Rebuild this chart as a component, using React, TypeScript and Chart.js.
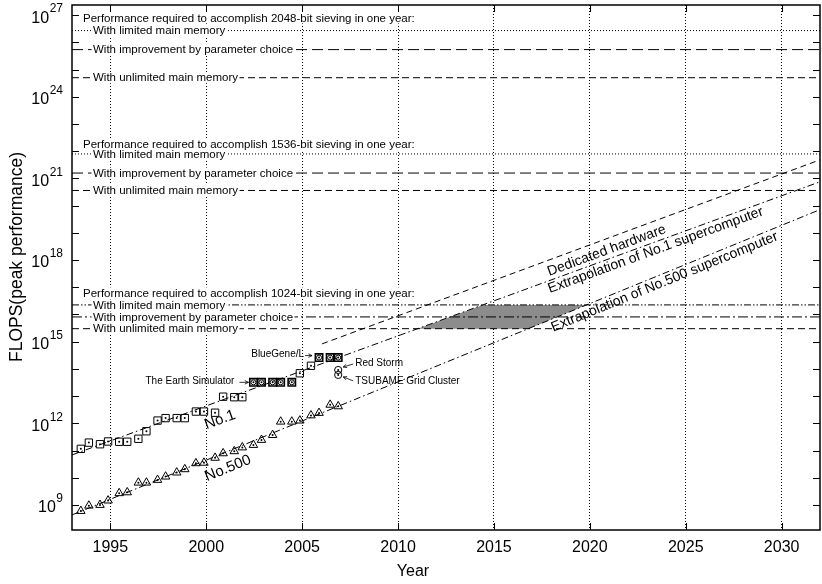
import React, { useEffect, useRef } from 'react';
import { Chart, registerables } from 'chart.js';

Chart.register(...registerables);

const FONT = '"Liberation Sans", Arial, Helvetica, sans-serif';

// ---- axes ----
const X_MIN = 1993;
const X_MAX = 2032;
const X_TICKS = [1995, 2000, 2005, 2010, 2015, 2020, 2025, 2030];
const Y_MIN = 1.2e8;
const Y_MAX = 2.35e27;
const Y_LABEL_EXPONENTS = [9, 12, 15, 18, 21, 24, 27];
const X_TITLE = 'Year';
const Y_TITLE = 'FLOPS(peak performance)';

// ---- TOP500 lists (June / November) ----
const LIST_YEARS = [
  1993.46, 1993.88, 1994.46, 1994.88, 1995.46, 1995.88, 1996.46, 1996.88,
  1997.46, 1997.88, 1998.46, 1998.88, 1999.46, 1999.88, 2000.46, 2000.88,
  2001.46, 2001.88, 2002.46, 2002.88, 2003.46, 2003.88, 2004.46, 2004.88,
  2005.46, 2005.88, 2006.46, 2006.88,
];
const NO1_FLOPS = [
  1.15e11, 1.95e11, 1.7e11, 2.15e11, 2.1e11, 2.1e11, 2.7e11, 5.1e11,
  1.26e12, 1.55e12, 1.55e12, 1.55e12, 2.7e12, 2.7e12, 2.45e12, 9.5e12,
  9.1e12, 9.1e12, 3.2e13, 3.2e13, 3.2e13, 3.2e13, 3.2e13, 6.9e13,
  1.3e14, 2.6e14, 2.6e14, 2.6e14,
];
const NO500_FLOPS = [
  6.0e8, 9.4e8, 1.0e9, 1.45e9, 2.7e9, 2.9e9, 6.6e9, 6.6e9,
  8.3e9, 1.1e10, 1.55e10, 2.05e10, 3.4e10, 3.55e10, 5.4e10, 7.9e10,
  9.4e10, 1.3e11, 1.6e11, 2.45e11, 3.7e11, 1.15e12, 1.15e12, 1.26e12,
  1.95e12, 2.4e12, 4.8e12, 4.2e12,
];
// Earth Simulator and BlueGene/L entries of the No.1 series (drawn circled)
const EARTH_SIMULATOR_YEARS = [2002.46, 2002.88, 2003.46, 2003.88, 2004.46];
const BLUEGENE_YEARS = [2005.88, 2006.46, 2006.88];
// other systems
const OTHER_NAMES = ['Red Storm', 'TSUBAME Grid Cluster'];
const OTHER_YEARS = [2006.88, 2006.88];
const OTHER_FLOPS = [9.1e13, 6.0e13];

// ---- trend lines ----
const NO1_TREND_YEARS = [1993, 2032];
const NO1_TREND_FLOPS = [6.9e10, 7.5e20];
const NO500_TREND_YEARS = [1993, 2032];
const NO500_TREND_FLOPS = [4.3e8, 7.1e19];
const DEDICATED_YEARS = [2006.04, 2032];
const DEDICATED_FLOPS = [8.3e14, 4.8e21];

// ---- required performance (one year of sieving) ----
const KEY_BITS = ['2048', '1536', '1024'];
const LIMITED_FLOPS = [2.7e26, 7.9e21, 2.24e16];
const IMPROVED_FLOPS = [5.4e25, 1.57e21, 8.1e15];
const UNLIMITED_FLOPS = [5.0e24, 3.6e20, 3.0e15];
const HEADER_FLOPS = [7.9e26, 1.74e22, 6.2e16];
const KEY_LABELS = [
  'With limited main memory',
  'With improvement by parameter choice',
  'With unlimited main memory',
];

const pts = (xs: number[], ys: number[]) => xs.map((x, i) => ({ x, y: ys[i] }));
const flat = (v: number) => [{ x: X_MIN, y: v }, { x: X_MAX, y: v }];
const yearAtLevel = (years: number[], flops: number[]) => {
  const l0 = Math.log10(flops[0]);
  const l1 = Math.log10(flops[1]);
  return (level: number) => years[0] + ((Math.log10(level) - l0) * (years[1] - years[0])) / (l1 - l0);
};

const no1At = yearAtLevel(NO1_TREND_YEARS, NO1_TREND_FLOPS);
const no500At = yearAtLevel(NO500_TREND_YEARS, NO500_TREND_FLOPS);
const lo1024 = UNLIMITED_FLOPS[2];
const hi1024 = LIMITED_FLOPS[2];
const REACH_1024 = [
  { x: no1At(lo1024), y: lo1024 },
  { x: no500At(lo1024), y: lo1024 },
  { x: no500At(hi1024), y: hi1024 },
  { x: no1At(hi1024), y: hi1024 },
  { x: no1At(lo1024), y: lo1024 },
];

const circledSet = new Set([...EARTH_SIMULATOR_YEARS, ...BLUEGENE_YEARS]);
const no1Points = pts(LIST_YEARS, NO1_FLOPS);
const circledPoints = no1Points.filter((p) => circledSet.has(p.x));

const DOTTED = [1, 2];
const LONG_DASH = [11, 5];
const DASH = [7, 4];
const DASH_DOT = [7, 3, 1.5, 3];
const DASH_DOT_DOT = [7, 2, 1.5, 2, 1.5, 2];
const LONG_DASH_DOT = [10, 3, 2, 3];

function lineDs(data: any[], dash: number[], order = 2) {
  return {
    data,
    borderColor: '#000',
    borderWidth: 1,
    borderDash: dash,
    pointRadius: 0,
    fill: false,
    showLine: true,
    order,
  };
}

function markerDs(data: any[], style: string, radius: number, width: any, order = 1) {
  return {
    data,
    showLine: false,
    pointStyle: style,
    pointRadius: radius,
    pointBorderColor: '#000',
    pointBackgroundColor: 'rgba(0,0,0,0)',
    pointBorderWidth: width,
    borderColor: '#000',
    order,
  };
}

function dotDs(data: any[]) {
  return {
    data,
    showLine: false,
    pointStyle: 'circle',
    pointRadius: 1,
    pointBorderWidth: 0,
    pointBackgroundColor: '#000',
    order: 0,
  };
}

const thresholdDatasets: any[] = [];
KEY_BITS.forEach((_, i) => {
  const last = i === 2;
  thresholdDatasets.push(lineDs(flat(LIMITED_FLOPS[i]), last ? DASH_DOT_DOT : DOTTED));
  thresholdDatasets.push(lineDs(flat(IMPROVED_FLOPS[i]), last ? LONG_DASH_DOT : LONG_DASH));
  thresholdDatasets.push(lineDs(flat(UNLIMITED_FLOPS[i]), DASH));
});

const overlayPlugin = {
  id: 'overlay',
  beforeDraw(chart: any) {
    const { ctx, width, height } = chart;
    ctx.save();
    ctx.fillStyle = '#fff';
    ctx.fillRect(0, 0, width, height);
    ctx.restore();
  },
  afterDatasetsDraw(chart: any) {
    const { ctx, chartArea: a } = chart;
    const xs = chart.scales.x;
    const ys = chart.scales.y;
    const px = (v: number) => xs.getPixelForValue(v);
    const py = (v: number) => ys.getPixelForValue(v);
    ctx.save();
    ctx.fillStyle = '#000';
    ctx.strokeStyle = '#000';

    // key labels with white boxes
    ctx.font = `11.5px ${FONT}`;
    ctx.textBaseline = 'middle';
    ctx.textAlign = 'left';
    const boxed = (t: string, x: number, y: number) => {
      const w = ctx.measureText(t).width;
      ctx.fillStyle = '#fff';
      ctx.fillRect(x - 1.5, y - 5.5, w + 3, 11);
      ctx.fillStyle = '#000';
      ctx.fillText(t, x, y + 0.5);
    };
    KEY_BITS.forEach((b, i) => {
      boxed(`Performance required to accomplish ${b}-bit sieving in one year:`, a.left + 11, py(HEADER_FLOPS[i]));
      boxed(KEY_LABELS[0], a.left + 21, py(LIMITED_FLOPS[i]));
      boxed(KEY_LABELS[1], a.left + 21, py(IMPROVED_FLOPS[i]));
      boxed(KEY_LABELS[2], a.left + 21, py(UNLIMITED_FLOPS[i]));
    });

    // rotated labels along trend lines
    const along = (text: string, years: number[], flops: number[], atYear: number, drop: number, size: number) => {
      const x0 = px(years[0]);
      const y0 = py(flops[0]);
      const x1 = px(years[1]);
      const y1 = py(flops[1]);
      const ang = Math.atan2(y1 - y0, x1 - x0);
      const cx = px(atYear);
      const cy = y0 + ((y1 - y0) * (cx - x0)) / (x1 - x0) + drop;
      ctx.save();
      ctx.translate(cx, cy);
      ctx.rotate(ang);
      ctx.font = `${size}px ${FONT}`;
      ctx.textAlign = 'center';
      ctx.textBaseline = 'middle';
      ctx.fillStyle = '#000';
      ctx.fillText(text, 0, 0);
      ctx.restore();
    };
    along('Dedicated hardware', DEDICATED_YEARS, DEDICATED_FLOPS, 2020.88, 12, 14);
    along('Extrapolation of No.1 supercomputer', NO1_TREND_YEARS, NO1_TREND_FLOPS, 2023.43, 8.5, 14);
    along('Extrapolation of No.500 supercomputer', NO500_TREND_YEARS, NO500_TREND_FLOPS, 2023.9, 9, 14);
    along('No.1', NO1_TREND_YEARS, NO1_TREND_FLOPS, 2000.72, 19, 15);
    along('No.500', NO500_TREND_YEARS, NO500_TREND_FLOPS, 2001.13, 17, 15);

    // annotated systems with arrows
    const arrow = (x0: number, y0: number, x1: number, y1: number) => {
      const ang = Math.atan2(y1 - y0, x1 - x0);
      ctx.lineWidth = 0.8;
      ctx.setLineDash([]);
      ctx.beginPath();
      ctx.moveTo(x0, y0);
      ctx.lineTo(x1, y1);
      ctx.moveTo(x1 - 4 * Math.cos(ang - 0.45), y1 - 4 * Math.sin(ang - 0.45));
      ctx.lineTo(x1, y1);
      ctx.lineTo(x1 - 4 * Math.cos(ang + 0.45), y1 - 4 * Math.sin(ang + 0.45));
      ctx.stroke();
    };
    ctx.font = `10px ${FONT}`;
    ctx.textBaseline = 'middle';
    const es = { x: px(EARTH_SIMULATOR_YEARS[0]), y: py(NO1_FLOPS[LIST_YEARS.indexOf(EARTH_SIMULATOR_YEARS[0])]) };
    ctx.textAlign = 'right';
    ctx.fillText('The Earth Simulator', es.x - 19, es.y - 1);
    arrow(es.x - 14, es.y, es.x - 5, es.y);
    const bg = { x: px(BLUEGENE_YEARS[0]), y: py(NO1_FLOPS[LIST_YEARS.indexOf(BLUEGENE_YEARS[0])]) };
    ctx.fillText('BlueGene/L', bg.x - 15, bg.y - 3);
    arrow(bg.x - 14, bg.y - 2, bg.x - 7, bg.y - 2);
    ctx.textAlign = 'left';
    const rs = { x: px(OTHER_YEARS[0]), y: py(OTHER_FLOPS[0]) };
    ctx.fillText(OTHER_NAMES[0], rs.x + 17, rs.y - 7);
    arrow(rs.x + 15, rs.y - 6, rs.x + 5, rs.y - 3);
    const ts = { x: px(OTHER_YEARS[1]), y: py(OTHER_FLOPS[1]) };
    ctx.fillText(OTHER_NAMES[1], ts.x + 17, ts.y + 6);
    arrow(ts.x + 15, ts.y + 6, ts.x + 5, ts.y + 2);
    ctx.restore();
  },
  afterDraw(chart: any) {
    const { ctx, chartArea: a } = chart;
    const xs = chart.scales.x;
    const ys = chart.scales.y;
    ctx.save();
    ctx.strokeStyle = '#000';
    ctx.fillStyle = '#000';
    ctx.setLineDash([]);
    ctx.lineWidth = 1;
    // inner tick marks
    ctx.beginPath();
    X_TICKS.forEach((v) => {
      const x = Math.round(xs.getPixelForValue(v)) + 0.5;
      ctx.moveTo(x, a.bottom);
      ctx.lineTo(x, a.bottom - 7);
      ctx.moveTo(x, a.top);
      ctx.lineTo(x, a.top + 7);
    });
    const eMin = Math.ceil(Math.log10(ys.min));
    const eMax = Math.floor(Math.log10(ys.max));
    for (let e = eMin; e <= eMax; e++) {
      const y = Math.round(ys.getPixelForValue(Math.pow(10, e))) + 0.5;
      ctx.moveTo(a.left, y);
      ctx.lineTo(a.left + 7, y);
      ctx.moveTo(a.right, y);
      ctx.lineTo(a.right - 7, y);
    }
    ctx.stroke();
    // frame
    ctx.lineWidth = 1.5;
    ctx.strokeRect(a.left, a.top, a.right - a.left, a.bottom - a.top);
    // y tick labels: 10^n
    Y_LABEL_EXPONENTS.forEach((e) => {
      const y = ys.getPixelForValue(Math.pow(10, e));
      ctx.textBaseline = 'middle';
      ctx.textAlign = 'right';
      ctx.font = `12px ${FONT}`;
      const exp = String(e);
      const ew = ctx.measureText(exp).width;
      const right = a.left - 9;
      ctx.fillText(exp, right, y - 6);
      ctx.font = `16px ${FONT}`;
      ctx.fillText('10', right - ew - 0.5, y + 3);
    });
    // axis titles
    ctx.font = `16px ${FONT}`;
    ctx.textAlign = 'center';
    ctx.textBaseline = 'middle';
    ctx.fillText(X_TITLE, 413, 572);
    ctx.save();
    ctx.translate(17, 257);
    ctx.rotate(-Math.PI / 2);
    ctx.font = `17.5px ${FONT}`;
    ctx.fillText(Y_TITLE, 0, 0);
    ctx.restore();
    ctx.restore();
  },
};

export default function App() {
  const ref = useRef<HTMLCanvasElement | null>(null);
  useEffect(() => {
    const canvas = ref.current;
    if (!canvas) return;
    const chart = new Chart(canvas, {
      type: 'line',
      data: {
        datasets: [
          dotDs(no1Points),
          dotDs(pts(LIST_YEARS, NO500_FLOPS)),
          dotDs(pts(OTHER_YEARS, OTHER_FLOPS)),
          markerDs(no1Points, 'rect', 5.2, (c: any) => (circledSet.has(LIST_YEARS[c.dataIndex]) ? 1.6 : 1)),
          markerDs(circledPoints, 'circle', 2.5, 1),
          markerDs(pts(LIST_YEARS, NO500_FLOPS), 'triangle', 4.9, 1),
          markerDs(pts(OTHER_YEARS, OTHER_FLOPS), 'circle', 3.6, 1),
          lineDs(pts(NO1_TREND_YEARS, NO1_TREND_FLOPS), DASH_DOT),
          lineDs(pts(NO500_TREND_YEARS, NO500_TREND_FLOPS), DASH_DOT),
          lineDs(pts(DEDICATED_YEARS, DEDICATED_FLOPS), [6, 4]),
          ...thresholdDatasets,
          {
            data: REACH_1024,
            borderWidth: 0,
            borderColor: 'rgba(0,0,0,0)',
            backgroundColor: '#8c8c8c',
            fill: 'shape',
            pointRadius: 0,
            showLine: true,
            order: 5,
          },
        ] as any,
      },
      options: {
        responsive: false,
        animation: false,
        devicePixelRatio: 1,
        events: [],
        layout: { autoPadding: false, padding: { top: 5, right: 2, left: 0, bottom: 0 } },
        elements: { line: { tension: 0 } },
        plugins: {
          legend: { display: false },
          tooltip: { enabled: false },
        },
        scales: {
          x: {
            type: 'linear',
            min: X_MIN,
            max: X_MAX,
            afterBuildTicks: (s: any) => {
              s.ticks = X_TICKS.map((v) => ({ value: v }));
            },
            afterFit: (s: any) => {
              s.height = 54;
              s.paddingLeft = 0;
              s.paddingRight = 0;
            },
            ticks: {
              color: '#000',
              font: { family: FONT, size: 16 },
              padding: 8,
              maxRotation: 0,
              callback: (v: any) => String(v),
            },
            grid: { display: true, drawOnChartArea: true, drawTicks: false, color: '#000', lineWidth: 1 },
            border: { display: false, dash: [1, 2] },
            title: { display: false, text: X_TITLE },
          },
          y: {
            type: 'logarithmic',
            min: Y_MIN,
            max: Y_MAX,
            afterBuildTicks: (s: any) => {
              s.ticks = Y_LABEL_EXPONENTS.map((e) => ({ value: Math.pow(10, e) }));
            },
            afterFit: (s: any) => {
              s.width = 72;
              s.paddingTop = 0;
              s.paddingBottom = 0;
            },
            ticks: { display: false },
            grid: { display: false },
            border: { display: false },
            title: { display: false, text: Y_TITLE },
          },
        },
      } as any,
      plugins: [overlayPlugin],
    });
    return () => chart.destroy();
  }, []);
  return (
    <div style={{ position: 'absolute', left: 0, top: 0, width: 822, height: 584, background: '#fff' }}>
      <canvas ref={ref} width={822} height={584} style={{ display: 'block', width: 822, height: 584 }} />
    </div>
  );
}
